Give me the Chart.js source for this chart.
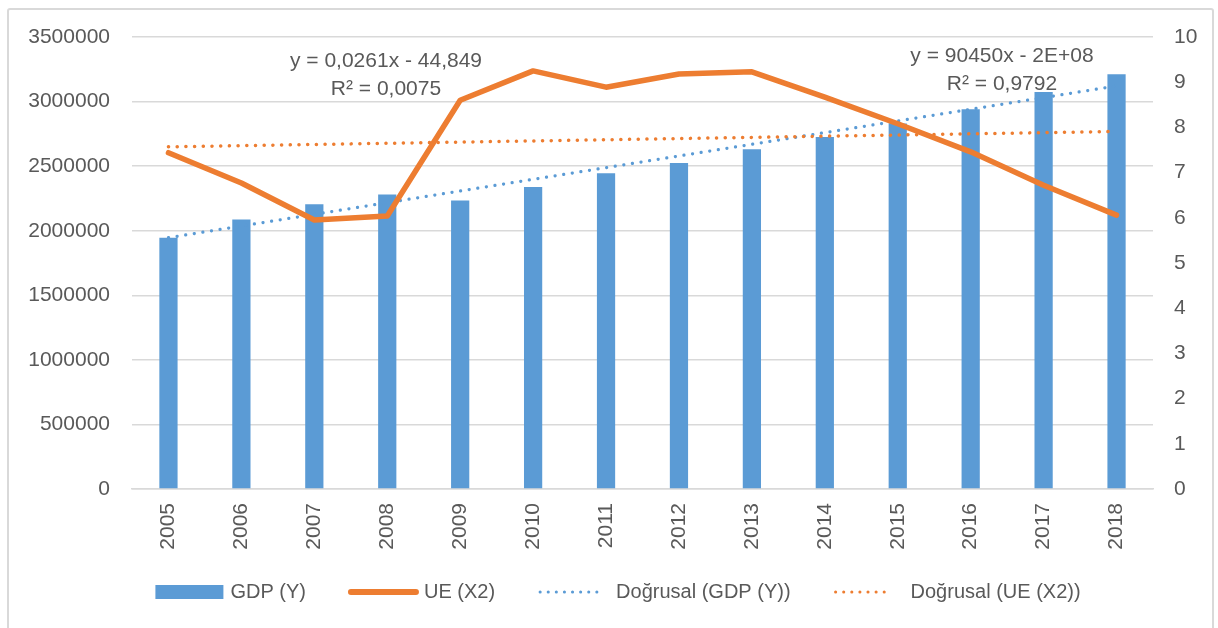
<!DOCTYPE html>
<html>
<head>
<meta charset="utf-8">
<script src="https://cdn.jsdelivr.net/npm/chart.js@4.4.1/dist/chart.umd.min.js"></script>
<style>
  html, body { margin: 0; padding: 0; background: #ffffff; }
  #wrap { position: relative; width: 1218px; height: 628px; overflow: hidden; }
  #frame { position: absolute; left: 7px; top: 8px; width: 1207px; height: 640px; border: 2px solid #d9d9d9; box-sizing: border-box; border-radius: 3px; }
  #c { position: absolute; left: 0; top: 0; }
</style>
</head>
<body>
<div id="wrap">
  <div id="frame"></div>
  <canvas id="c" width="1218" height="628"></canvas>
</div>
<script>
// ---- data ----
const years = ['2005','2006','2007','2008','2009','2010','2011','2012','2013','2014','2015','2016','2017','2018'];
const gdp = [1944600, 2087000, 2205000, 2280000, 2234000, 2339000, 2445000, 2525000, 2631000, 2726000, 2830000, 2940000, 3074000, 3211000];
const ue  = [7.44, 6.77, 5.95, 6.04, 8.60, 9.25, 8.89, 9.18, 9.23, 8.67, 8.08, 7.46, 6.72, 6.06];
// trend line end points (2005 and 2018)
const gdpTrend = [1946000, null, null, null, null, null, null, null, null, null, null, null, null, 3121000];
const ueTrend  = [7.57, null, null, null, null, null, null, null, null, null, null, null, null, 7.91];
const leftTicks = [0, 500000, 1000000, 1500000, 2000000, 2500000, 3000000, 3500000];
const rightTicks = [0,1,2,3,4,5,6,7,8,9,10];
const labels = ['GDP (Y)', 'UE (X2)', 'Doğrusal (GDP (Y))', 'Doğrusal (UE (X2))'];
const eqUE = ['y = 0,0261x - 44,849', 'R² = 0,0075'];
const eqGDP = ['y = 90450x - 2E+08', 'R² = 0,9792'];

const BLUE = '#5B9BD5';
const ORANGE = '#ED7D31';
const TXT = '#595959';
const GRID = '#d9d9d9';
const FONT = "'Liberation Sans', Arial, sans-serif";
const FS = 21;

Chart.defaults.font.family = FONT;
Chart.defaults.font.size = FS;
Chart.defaults.color = TXT;

const legendStyles = [
  { kind: 'box',  color: BLUE,   width: 0, dash: [],       sample: 68, gap: 7 },
  { kind: 'line', color: ORANGE, width: 6, dash: [],       sample: 71, gap: 5 },
  { kind: 'line', color: BLUE,   width: 3, dash: [0.1, 8], sample: 64, gap: 15 },
  { kind: 'line', color: ORANGE, width: 3, dash: [0.1, 8], sample: 62, gap: 16 }
];

const annot = {
  id: 'annot',
  afterDraw(chart) {
    const ctx = chart.ctx;
    ctx.save();
    ctx.font = FS + 'px ' + FONT;
    ctx.fillStyle = TXT;
    ctx.textAlign = 'center';
    ctx.textBaseline = 'middle';
    ctx.fillText(eqUE[0], 386, 61);
    ctx.fillText(eqUE[1], 386, 89);
    ctx.fillText(eqGDP[0], 1002, 56);
    ctx.fillText(eqGDP[1], 1002, 84);

    // legend (bottom)
    ctx.font = '20px ' + FONT;
    const gapItem = 42, cy = 592;
    const widths = chart.data.datasets.map((ds, i) => legendStyles[i].sample + legendStyles[i].gap + ctx.measureText(ds.label).width);
    const total = widths.reduce((a, b) => a + b, 0) + gapItem * (widths.length - 1);
    let x = 618 - total / 2;
    ctx.textAlign = 'left';
    chart.data.datasets.forEach((ds, i) => {
      const st = legendStyles[i];
      if (st.kind === 'box') {
        ctx.fillStyle = st.color;
        ctx.fillRect(x, cy - 7, st.sample, 14);
      } else {
        ctx.save();
        ctx.strokeStyle = st.color;
        ctx.lineWidth = st.width;
        ctx.lineCap = 'round';
        ctx.setLineDash(st.dash);
        ctx.beginPath();
        ctx.moveTo(x + 3, cy);
        ctx.lineTo(x + st.sample - 3, cy);
        ctx.stroke();
        ctx.restore();
      }
      ctx.fillStyle = TXT;
      ctx.fillText(ds.label, x + st.sample + st.gap, cy);
      x += widths[i] + gapItem;
    });
    ctx.restore();
  }
};

new Chart(document.getElementById('c'), {
  data: {
    labels: years,
    datasets: [
      { type: 'bar', label: labels[0], data: gdp, yAxisID: 'y', backgroundColor: BLUE, borderWidth: 0,
        categoryPercentage: 1.0, barPercentage: 0.25, order: 5 },
      { type: 'line', label: labels[1], data: ue, yAxisID: 'y1', borderColor: ORANGE, backgroundColor: ORANGE,
        borderWidth: 5.5, pointRadius: 0, tension: 0, borderJoinStyle: 'round', borderCapStyle: 'round', order: 1 },
      { type: 'line', label: labels[2], data: gdpTrend, yAxisID: 'y', borderColor: BLUE, backgroundColor: BLUE,
        borderWidth: 3.2, borderDash: [0.1, 8.6], borderCapStyle: 'round', pointRadius: 0, spanGaps: true, order: 3 },
      { type: 'line', label: labels[3], data: ueTrend, yAxisID: 'y1', borderColor: ORANGE, backgroundColor: ORANGE,
        borderWidth: 3.5, borderDash: [0.1, 8.6], borderCapStyle: 'round', pointRadius: 0, spanGaps: true, order: 2 }
    ]
  },
  options: {
    responsive: false,
    animation: false,
    layout: { padding: { left: 18, right: 0, top: 37, bottom: 59 } },
    plugins: {
      tooltip: { enabled: false },
      legend: { display: false }
    },
    scales: {
      x: {
        grid: { display: false, drawTicks: false },
        border: { display: true, color: GRID, width: 1.5 },
        ticks: { maxRotation: 90, minRotation: 90, padding: 14, color: TXT, font: { size: FS } },
        afterFit(s) { s.height = 80; }
      },
      y: {
        position: 'left',
        min: 0, max: 3500000,
        afterBuildTicks(s) { s.ticks = leftTicks.map(v => ({ value: v })); },
        grid: { color: GRID, lineWidth: 1.5, drawTicks: false },
        border: { display: false },
        ticks: { padding: 22, color: TXT, font: { size: FS }, callback: v => String(v) },
        afterFit(s) { s.width = 114; }
      },
      y1: {
        position: 'right',
        min: 0, max: 10,
        afterBuildTicks(s) { s.ticks = rightTicks.map(v => ({ value: v })); },
        grid: { display: false, drawTicks: false },
        border: { display: false },
        ticks: { padding: 21, color: TXT, font: { size: FS }, callback: v => String(v) },
        afterFit(s) { s.width = 65; }
      }
    }
  },
  plugins: [annot]
});
</script>
</body>
</html>
